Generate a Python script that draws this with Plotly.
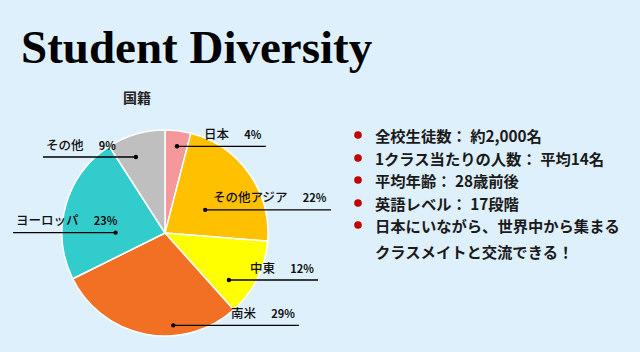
import math
import plotly.graph_objects as go

# ---- data ----
categories = ["日本", "その他アジア", "中東", "南米", "ヨーロッパ", "その他"]
shares = [4, 22, 12, 29, 23, 9]
colors = ["#F4989C", "#FFC000", "#FFFF00", "#F27024", "#33CCCC", "#BFBFBF"]

bullets = [
    "全校生徒数： 約2,000名",
    "1クラス当たりの人数： 平均14名",
    "平均年齢： 28歳前後",
    "英語レベル： 17段階",
    "日本にいながら、世界中から集まる",
]
bullet_cont = "クラスメイトと交流できる！"

title_text = "Student Diversity"
chart_title = "国籍"

# ---- layout parameters (pixels) ----
W, H = 640, 352
CX, CY, R = 165, 233, 103
BG = "#DEF0FC"
JP = "Noto Sans CJK JP"

# label placement: angle offset from slice mid (deg), radius fraction, line end x, side
label_off = [0.6, 5.5, 10, -16, -15, -4.6]
label_rf = [0.85, 0.45, 0.77, 0.90, 0.48, 0.79]
label_end = [266, 331, 318, 299, 13, 43]
label_side = ["r", "r", "r", "r", "l", "l"]


def px(x):
    return x / W


def py(y):
    return 1 - y / H


fig = go.Figure()
fig.add_trace(go.Pie(
    labels=categories, values=shares, sort=False, direction="clockwise",
    rotation=0, textinfo="none", hoverinfo="label+percent",
    marker=dict(colors=colors, line=dict(color="white", width=1.5)),
    domain=dict(x=[px(CX - R), px(CX + R)], y=[py(CY + R), py(CY - R)]),
    showlegend=False,
))

shapes = []
annotations = []

total = sum(shares)
cum = 0
for i, (cat, v) in enumerate(zip(categories, shares)):
    mid = (cum + v / 2) / total * 360
    cum += v
    a = math.radians(mid + label_off[i])
    dx = CX + R * label_rf[i] * math.sin(a)
    dy = CY - R * label_rf[i] * math.cos(a)
    x0, x1 = (dx, label_end[i]) if label_side[i] == "r" else (label_end[i], dx)
    shapes.append(dict(type="line", xref="paper", yref="paper",
                       x0=px(x0), x1=px(x1), y0=py(dy), y1=py(dy),
                       line=dict(color="black", width=1.3)))
    rr = 2.2
    shapes.append(dict(type="circle", xref="paper", yref="paper",
                       x0=px(dx - rr), x1=px(dx + rr), y0=py(dy + rr), y1=py(dy - rr),
                       fillcolor="black", line=dict(width=0)))
    pct = f"{round(v)}%"
    txt = f"{cat}　 <span style='font-size:11px'><b>{pct}</b></span>"
    if label_side[i] == "r":
        annotations.append(dict(x=px(x1 - 2), y=py(dy - 1.5), xref="paper", yref="paper",
                                text=txt, showarrow=False, xanchor="right", yanchor="bottom",
                                font=dict(family=JP, size=12.5, color="#111111", weight=500)))
    else:
        annotations.append(dict(x=px(x0 + 1), y=py(dy - 1.5), xref="paper", yref="paper",
                                text=txt, showarrow=False, xanchor="left", yanchor="bottom",
                                font=dict(family=JP, size=12.5, color="#111111", weight=500)))

# title
annotations.append(dict(x=px(19), y=py(47), xref="paper", yref="paper",
                        text=f"<b>{title_text}</b>", showarrow=False,
                        xanchor="left", yanchor="middle",
                        font=dict(family="Liberation Serif", size=47, color="black")))
# chart title
annotations.append(dict(x=px(137), y=py(97), xref="paper", yref="paper",
                        text=f"<b>{chart_title}</b>", showarrow=False,
                        xanchor="center", yanchor="middle",
                        font=dict(family=JP, size=14, color="#222222")))

# bullets
bullet_y = [135, 158, 180, 203, 225]
for t, by in zip(bullets, bullet_y):
    shapes.append(dict(type="circle", xref="paper", yref="paper",
                       x0=px(358 - 3.8), x1=px(358 + 3.8), y0=py(by + 3.8), y1=py(by - 3.8),
                       fillcolor="#C00000", line=dict(width=0)))
    annotations.append(dict(x=px(373), y=py(by), xref="paper", yref="paper",
                            text=f"<b>{t}</b>", showarrow=False,
                            xanchor="left", yanchor="middle",
                            font=dict(family=JP, size=15.3, color="#1A1A1A")))
annotations.append(dict(x=px(373), y=py(251), xref="paper", yref="paper",
                        text=f"<b>{bullet_cont}</b>", showarrow=False,
                        xanchor="left", yanchor="middle",
                        font=dict(family=JP, size=15.3, color="#1A1A1A")))

fig.update_layout(
    width=W, height=H, margin=dict(l=0, r=0, t=0, b=0),
    paper_bgcolor=BG, plot_bgcolor=BG,
    shapes=shapes, annotations=annotations,
)
fig.write_html("out.html")
